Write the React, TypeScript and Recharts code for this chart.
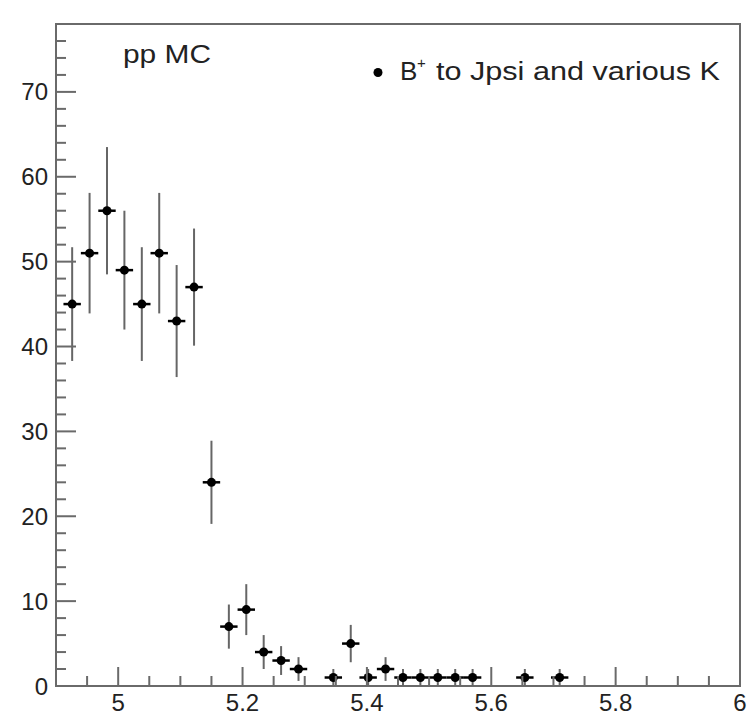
import { ScatterChart, Scatter, XAxis, YAxis, ErrorBar, ReferenceArea, Customized } from 'recharts';

// bin centres (GeV), bin width 0.028
const binCenters = [
    4.926, 4.954, 4.982, 5.010, 5.038, 5.066, 5.094, 5.122, 5.150, 5.178,
    5.206, 5.234, 5.262, 5.290, 5.318, 5.346, 5.374, 5.402, 5.430, 5.458,
    5.486, 5.514, 5.542, 5.570, 5.598, 5.626, 5.654, 5.682, 5.710,
];
const counts = [
    45, 51, 56, 49, 45, 51, 43, 47, 24, 7,
    9, 4, 3, 2, 0, 1, 5, 1, 2, 1,
    1, 1, 1, 1, 0, 0, 1, 0, 1,
];
const countErrors = [
    6.7, 7.1, 7.5, 7.0, 6.7, 7.1, 6.6, 6.9, 4.9, 2.6,
    3.0, 2.0, 1.7, 1.4, 0, 1.0, 2.2, 1.0, 1.4, 1.0,
    1.0, 1.0, 1.0, 1.0, 0, 0, 1.0, 0, 1.0,
];
const binHalfWidth = 0.014;

const xTicks = [4.95, 5, 5.05, 5.1, 5.15, 5.2, 5.25, 5.3, 5.35, 5.4, 5.45, 5.5, 5.55, 5.6, 5.65, 5.7, 5.75, 5.8, 5.85, 5.9, 5.95, 6];
const xMajorTicks = [5, 5.2, 5.4, 5.6, 5.8, 6];
const yTicks = [
    0, 2, 4, 6, 8, 10, 12, 14, 16, 18, 20, 22, 24, 26, 28, 30, 32, 34, 36, 38,
    40, 42, 44, 46, 48, 50, 52, 54, 56, 58, 60, 62, 64, 66, 68, 70, 72, 74, 76, 78,
];
const yMajorTicks = [0, 10, 20, 30, 40, 50, 60, 70];

const X_MIN = 4.9;
const X_MAX = 6.0;
const Y_MAX = 78;

const AXIS = '#6a6a6a';
const INK = '#222';
const FONT = '"Liberation Sans", Arial, Helvetica, sans-serif';

const points = binCenters
    .map((x, i) => ({ x, y: counts[i], ey: countErrors[i], ex: binHalfWidth }))
    .filter(p => p.y > 0);

const XTick = (props: any) => {
    const { x, y, payload } = props;
    const major = xMajorTicks.includes(payload.value);
    return (
        <g>
            <line x1={x} y1={y} x2={x} y2={y - (major ? 19 : 10)} stroke={AXIS} strokeWidth={2} />
            {major && (
                <text x={x} y={y + 25} textAnchor="middle" fontSize={24} fill={INK} fontFamily={FONT}>
                    {payload.value}
                </text>
            )}
        </g>
    );
};

const YTick = (props: any) => {
    const { x, y, payload } = props;
    const major = yMajorTicks.includes(payload.value);
    return (
        <g>
            <line x1={x} y1={y} x2={x + (major ? 20 : 10)} y2={y} stroke={AXIS} strokeWidth={2} />
            {major && (
                <text x={x - 8} y={y} textAnchor="end" dominantBaseline="central" fontSize={24} fill={INK} fontFamily={FONT}>
                    {payload.value}
                </text>
            )}
        </g>
    );
};

const Annotations = () => (
    <g fontFamily={FONT} fill={INK}>
        <text x={123} y={63} fontSize={26} textLength={88} lengthAdjust="spacingAndGlyphs">pp MC</text>
        <circle cx={378} cy={72.5} r={4.5} fill="#000" />
        <text x={400} y={80} fontSize={26}>B</text>
        <text x={417} y={68} fontSize={15}>+</text>
        <text x={436} y={80} fontSize={26} textLength={284} lengthAdjust="spacingAndGlyphs">to Jpsi and various K</text>
    </g>
);

const Marker = (props: any) => <circle cx={props.cx} cy={props.cy} r={4.5} fill="#000" />;

export default function App() {
    return (
        <div style={{ position: 'absolute', left: 0, top: 0, width: 747, height: 717, background: '#fff' }}>
            <ScatterChart width={747} height={717} margin={{ top: 24, right: 7, left: 0, bottom: 0 }}>
                <XAxis
                    type="number"
                    dataKey="x"
                    domain={[X_MIN, X_MAX]}
                    allowDataOverflow
                    ticks={xTicks}
                    interval={0}
                    height={31}
                    tickSize={0}
                    tickMargin={0}
                    axisLine={false}
                    tickLine={false}
                    tick={<XTick />}
                />
                <YAxis
                    type="number"
                    dataKey="y"
                    domain={[0, Y_MAX]}
                    allowDataOverflow
                    ticks={yTicks}
                    interval={0}
                    width={56}
                    tickSize={0}
                    tickMargin={0}
                    axisLine={false}
                    tickLine={false}
                    tick={<YTick />}
                />
                <ReferenceArea x1={X_MIN} x2={X_MAX} y1={0} y2={Y_MAX} fill="none" stroke={AXIS} strokeWidth={2} />
                <Scatter data={points} dataKey="y" shape={<Marker />} isAnimationActive={false}>
                    <ErrorBar dataKey="ey" direction="y" width={0} stroke="#666" strokeWidth={2} isAnimationActive={false} />
                    <ErrorBar dataKey="ex" direction="x" width={0} stroke="#000" strokeWidth={2.5} isAnimationActive={false} />
                </Scatter>
                <Customized component={Annotations} />
            </ScatterChart>
        </div>
    );
}
